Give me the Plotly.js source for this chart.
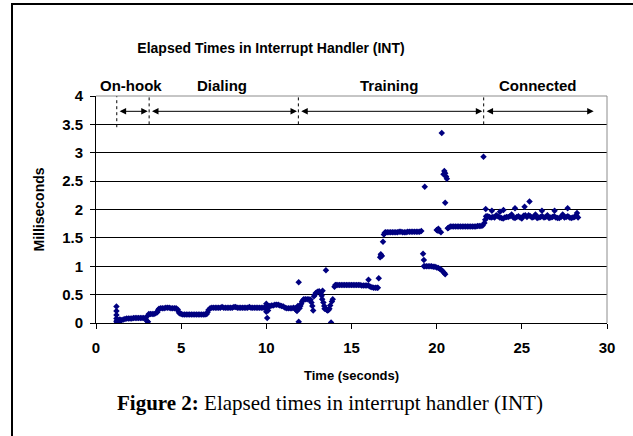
<!DOCTYPE html>
<html><head><meta charset="utf-8">
<script src="https://cdn.plot.ly/plotly-3.0.1.min.js"></script>
<style>html,body{margin:0;padding:0;background:#fff;overflow:hidden}#chart{width:633px;height:436px}</style>
</head><body><div id="chart"></div>
<script>
// ---- data (time in seconds, elapsed time in milliseconds) ----
const onhookTime = [1.2,1.2,1.2,1.2,1.2,1.22,1.25,1.3,1.35,1.4,1.5,1.6,1.7,1.8,1.9,2.0,2.1,2.2,2.3,2.4,2.5,2.6,2.7,2.8,2.9,3.0,3.0,3.05];
const onhookMs   = [0.29,0.21,0.14,0.08,0.03,0.0,0.04,0.05,0.02,0.06,0.05,0.06,0.07,0.08,0.08,0.08,0.08,0.09,0.09,0.09,0.09,0.09,0.09,0.09,0.08,0.12,0.03,0.02];

const dialingTime = [3.1,3.2,3.3,3.4,3.5,3.6,3.65,3.7,3.8,3.9,4.0,4.1,4.2,4.3,4.4,4.5,4.6,4.7,4.8,4.85,4.9,5.0,5.1,5.2,5.3,5.4,5.5,5.6,5.7,5.8,5.9,6.0,6.1,6.2,6.3,6.4,6.5,6.55,6.6,6.7,6.8,6.9,7.0,7.1,7.2,7.3,7.4,7.5,7.6,7.7,7.8,7.9,8.0,8.1,8.2,8.3,8.4,8.5,8.6,8.7,8.8,8.9,9.0,9.1,9.2,9.3,9.4,9.5,9.6,9.7,9.8,9.9,10.0,10.0,10.05,10.05,10.1,10.15,10.2,10.3,10.4,10.5,10.6,10.7,10.8,10.9,11.0,11.1,11.2,11.3,11.4,11.5,11.6,11.7,11.75,11.8,11.85];
const dialingMs   = [0.16,0.16,0.16,0.16,0.17,0.19,0.23,0.25,0.26,0.26,0.26,0.27,0.27,0.27,0.26,0.26,0.26,0.26,0.24,0.2,0.17,0.16,0.15,0.15,0.15,0.15,0.15,0.15,0.15,0.15,0.15,0.15,0.15,0.15,0.15,0.15,0.16,0.19,0.23,0.26,0.27,0.27,0.27,0.27,0.27,0.27,0.28,0.27,0.27,0.27,0.27,0.27,0.27,0.28,0.28,0.27,0.27,0.27,0.27,0.27,0.27,0.27,0.28,0.27,0.27,0.27,0.27,0.27,0.27,0.27,0.27,0.27,0.34,0.2,0.09,0.25,0.22,0.28,0.3,0.31,0.31,0.32,0.32,0.32,0.31,0.3,0.29,0.27,0.26,0.26,0.26,0.26,0.27,0.26,0.23,0.21,0.3];

const trainingTime = [11.9,11.9,11.95,12.0,12.05,12.1,12.15,12.2,12.3,12.4,12.5,12.6,12.65,12.7,12.75,12.8,12.85,12.9,13.0,13.1,13.2,13.25,13.28,13.3,13.35,13.4,13.42,13.5,13.5,13.55,13.6,13.65,13.7,13.75,13.8,13.85,13.9,14.0,14.05,14.1,14.2,14.3,14.4,14.5,14.6,14.7,14.8,14.9,15.0,15.1,15.2,15.3,15.4,15.5,15.6,15.7,15.8,15.9,16.0,16.0,16.1,16.2,16.3,16.4,16.5,16.55,16.6,16.68,16.72,16.75,16.78,16.85,16.9,16.95,17.0,17.1,17.2,17.3,17.4,17.5,17.6,17.7,17.8,17.9,18.0,18.1,18.2,18.3,18.4,18.5,18.6,18.7,18.8,18.9,19.0,19.1,19.2,19.25,19.3,19.25,19.3,19.4,19.5,19.6,19.7,19.8,19.9,20.0,20.0,20.05,20.1,20.15,20.1,20.2,20.25,20.3,20.3,20.35,20.45,20.5,20.4,20.45,20.5,20.55,20.6,20.5,20.65,20.7,20.8,20.9,21.0,21.1,21.2,21.3,21.4,21.5,21.6,21.7,21.8,21.9,22.0,22.1,22.2,22.3,22.4,22.5,22.6,22.7,22.75];
const trainingMs   = [0.72,0.02,0.26,0.3,0.34,0.38,0.4,0.42,0.42,0.42,0.42,0.41,0.36,0.3,0.22,0.47,0.5,0.53,0.55,0.56,0.53,0.48,0.42,0.57,0.36,0.3,0.25,0.93,0.25,0.23,0.22,0.23,0.25,0.31,0.01,0.38,0.42,0.64,0.67,0.67,0.67,0.67,0.67,0.67,0.67,0.67,0.67,0.67,0.67,0.67,0.67,0.67,0.67,0.67,0.66,0.66,0.66,0.66,0.66,0.76,0.64,0.63,0.62,0.62,0.62,0.62,0.79,1.16,1.21,1.19,1.18,1.43,1.56,1.59,1.6,1.6,1.6,1.6,1.6,1.6,1.6,1.6,1.61,1.61,1.6,1.6,1.6,1.61,1.61,1.61,1.61,1.61,1.61,1.61,1.61,1.62,1.22,1.11,2.4,1.0,1.0,1.0,1.0,1.0,1.0,0.99,0.99,0.98,1.64,1.63,1.66,1.62,0.97,0.95,1.6,3.35,0.93,0.91,0.88,0.86,2.62,2.68,2.64,2.58,2.54,2.12,1.67,1.68,1.7,1.7,1.7,1.7,1.7,1.7,1.7,1.7,1.7,1.7,1.7,1.7,1.7,1.7,1.7,1.7,1.71,1.71,1.71,1.72,2.93];

const connectedTime = [22.8,22.85,22.88,22.9,22.95,23.0,23.1,23.2,23.24,23.3,23.4,23.5,23.6,23.7,23.72,23.8,23.9,23.92,24.0,24.1,24.2,24.3,24.4,24.5,24.6,24.6,24.7,24.8,24.9,25.0,25.1,25.16,25.2,25.3,25.4,25.45,25.5,25.6,25.7,25.8,25.9,26.0,26.1,26.18,26.2,26.3,26.4,26.5,26.6,26.7,26.8,26.9,26.92,27.0,27.1,27.2,27.3,27.4,27.5,27.6,27.69,27.7,27.8,27.9,28.0,28.1,28.2,28.24,28.3];
const connectedMs   = [1.76,1.82,2.01,1.88,1.86,1.88,1.87,1.86,1.98,1.87,1.86,1.9,1.88,1.86,1.96,1.85,1.84,1.99,1.86,1.87,1.87,1.88,1.91,1.86,1.85,2.02,1.87,1.88,1.86,1.84,1.89,2.05,1.9,1.87,1.9,2.14,1.88,1.86,1.87,1.91,1.85,1.86,1.87,1.98,1.88,1.86,1.87,1.9,1.85,1.86,1.87,1.88,1.98,1.86,1.85,1.85,1.87,1.91,1.86,1.87,2.02,1.88,1.86,1.85,1.86,1.87,1.9,1.94,1.86];

// phases (seconds)
const phaseNames = ['On-hook','Dialing','Training','Connected'];
const phaseStart = [1.22, 3.12, 11.88, 22.76];
const phaseEnd   = [3.12, 11.88, 22.76, 29.3];

const xTicks = [0,5,10,15,20,25,30];
const yTicks = [0,0.5,1,1.5,2,2.5,3,3.5,4];

// ---- chart ----
const NAVY = '#000080';
const mk = {symbol:'diamond', size:5, color:NAVY, line:{width:0}};
const series = [[onhookTime,onhookMs],[dialingTime,dialingMs],[trainingTime,trainingMs],[connectedTime,connectedMs]];
const traces = series.map((s,i)=>({type:'scatter', mode:'markers', x:s[0], y:s[1], marker:mk, name:phaseNames[i], hoverinfo:'x+y'}));

const SANS = 'Liberation Sans, Arial, sans-serif';
const annotations = [];
const shapes = [];
// phase labels, arrows and separators
phaseNames.forEach((n,i)=>{
  annotations.push({xref:'x', yref:'paper', x:(phaseStart[i]+phaseEnd[i])/2 - 0.1, y:(323-85)/227, text:n, showarrow:false,
    font:{family:SANS, size:15, weight:700, color:'#000'}, xanchor:'center', yanchor:'middle'});
  annotations.push({xref:'x', yref:'y', axref:'x', ayref:'y', x:phaseEnd[i]-0.08, y:3.73, ax:phaseStart[i]+0.08, ay:3.73,
    text:'', showarrow:true, arrowside:'end+start', arrowhead:2, startarrowhead:2, arrowsize:1.3, startarrowsize:1.3,
    arrowwidth:1, arrowcolor:'#000', standoff:0, startstandoff:0});
  shapes.push({type:'line', xref:'x', yref:'y', x0:phaseStart[i], x1:phaseStart[i], y0:(i===0?3.45:3.5), y1:4.02,
    line:{color:'#000', width:1, dash:'dot'}, layer:'above'});
});
// plot-area border (top/right grey)
shapes.push({type:'line', xref:'paper', yref:'paper', x0:0, x1:1, y0:1, y1:1, line:{color:'#8c8c8c', width:1}, layer:'above'});
shapes.push({type:'line', xref:'paper', yref:'paper', x0:1, x1:1, y0:0, y1:1, line:{color:'#8c8c8c', width:1}, layer:'above'});
// outer frame of the figure
shapes.push({type:'rect', xref:'paper', yref:'paper', x0:(12-96)/511, x1:(660-96)/511, y0:(323-460)/227, y1:(323-4)/227,
  line:{color:'#000', width:2}, fillcolor:'rgba(0,0,0,0)', layer:'below'});

// axis titles and caption
annotations.push({xref:'paper', yref:'paper', x:(38-96)/511, y:0.5, text:'Milliseconds', textangle:-90, showarrow:false,
  font:{family:SANS, size:14, weight:700, color:'#000'}, xanchor:'center', yanchor:'middle'});
annotations.push({xref:'paper', yref:'paper', x:0.5, y:(323-375)/227, text:'Time (seconds)', showarrow:false,
  font:{family:SANS, size:13, weight:700, color:'#000'}, xanchor:'center', yanchor:'middle'});
annotations.push({xref:'paper', yref:'paper', x:(330-96)/511, y:(323-403)/227, text:'<b>Figure 2:</b> Elapsed times in interrupt handler (INT)', showarrow:false,
  font:{family:'Liberation Serif, Times New Roman, serif', size:21, color:'#000'}, xanchor:'center', yanchor:'middle'});

const layout = {
  width:633, height:436,
  margin:{l:96, r:26, t:96, b:113, pad:0},
  paper_bgcolor:'#fff', plot_bgcolor:'#fff',
  showlegend:false,
  font:{family:SANS, color:'#000'},
  title:{text:'Elapsed Times in Interrupt Handler (INT)', font:{family:SANS, size:14, weight:700, color:'#000'},
    xref:'paper', x:(271-96)/511, xanchor:'center', yref:'container', y:1-48/436, yanchor:'middle'},
  xaxis:{range:[0,30], tickmode:'array', tickvals:xTicks, ticktext:xTicks.map(String), ticks:'outside', ticklen:5, tickwidth:1, tickcolor:'#000',
    showline:true, linecolor:'#000', linewidth:1, showgrid:false, zeroline:false, fixedrange:true,
    tickfont:{family:SANS, size:15, weight:700, color:'#000'}, ticklabelstandoff:6},
  yaxis:{range:[0,4], tickmode:'array', tickvals:yTicks, ticktext:yTicks.map(String), ticks:'outside', ticklen:5, tickwidth:1, tickcolor:'#000',
    showline:true, linecolor:'#000', linewidth:1, showgrid:true, gridcolor:'#000', gridwidth:1, zeroline:false, fixedrange:true,
    tickfont:{family:SANS, size:15, weight:700, color:'#000'}, ticklabelstandoff:4},
  annotations, shapes
};
Plotly.newPlot('chart', traces, layout, {staticPlot:true, displayModeBar:false});
</script></body></html>
